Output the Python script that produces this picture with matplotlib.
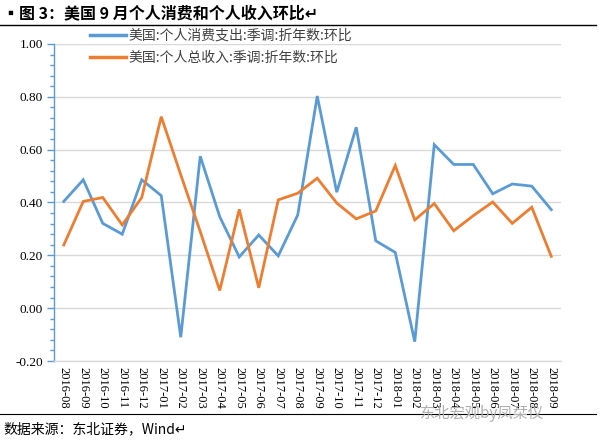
import matplotlib
matplotlib.use("Agg")
import matplotlib.pyplot as plt
from matplotlib.lines import Line2D
from matplotlib.ticker import MultipleLocator, FormatStrFormatter

plt.rcParams['font.family'] = ['Noto Sans CJK SC', 'DejaVu Sans']

months = ["2016-08", "2016-09", "2016-10", "2016-11", "2016-12",
          "2017-01", "2017-02", "2017-03", "2017-04", "2017-05", "2017-06",
          "2017-07", "2017-08", "2017-09", "2017-10", "2017-11", "2017-12",
          "2018-01", "2018-02", "2018-03", "2018-04", "2018-05", "2018-06",
          "2018-07", "2018-08", "2018-09"]
consumption = [0.404, 0.486, 0.321, 0.280, 0.486, 0.426, -0.110, 0.575, 0.346,
               0.194, 0.277, 0.198, 0.353, 0.803, 0.439, 0.685, 0.255, 0.211,
               -0.127, 0.619, 0.544, 0.544, 0.433, 0.470, 0.462, 0.373]
income = [0.239, 0.404, 0.419, 0.315, 0.419, 0.725, 0.505, 0.290, 0.067,
          0.374, 0.077, 0.410, 0.435, 0.492, 0.398, 0.338, 0.368, 0.540,
          0.334, 0.396, 0.293, 0.350, 0.402, 0.321, 0.382, 0.196]
series_names = ["美国:个人消费支出:季调:折年数:环比", "美国:个人总收入:季调:折年数:环比"]
title_text = "▪图 3：美国 9 月个人消费和个人收入环比↵"
source_text = "数据来源：东北证券，Wind↵"

blue = "#5B9BD5"
orange = "#ED7D31"

fig = plt.figure(figsize=(6.02, 4.42), dpi=100)
ax = fig.add_axes([54/602, 1-361/442, (561-54)/602, (361-44)/442])

x = list(range(len(months)))
ax.plot(x, consumption, color=blue, lw=2.0, solid_joinstyle='miter', label=series_names[0], zorder=3)
ax.plot(x, income, color=orange, lw=2.0, solid_joinstyle='miter', label=series_names[1], zorder=3)

ax.set_xlim(-0.5, len(months) - 0.5)
ax.set_ylim(-0.2, 1.0)
ax.yaxis.set_major_locator(MultipleLocator(0.2))
ax.yaxis.set_minor_locator(MultipleLocator(0.04))
ax.yaxis.set_major_formatter(FormatStrFormatter('%.2f'))
ax.grid(axis='y', which='major', color='#D9D9D9', lw=1.0, zorder=0)

for s in ['top', 'right']:
    ax.spines[s].set_visible(False)
ax.spines['left'].set_color(blue)
ax.spines['left'].set_linewidth(1.0)
ax.spines['bottom'].set_color('#D9D9D9')
ax.spines['bottom'].set_linewidth(1.0)

ax.tick_params(axis='y', which='major', direction='out', length=5, color=blue, width=1,
               labelsize=9.5, pad=3)
ax.tick_params(axis='y', which='minor', direction='out', length=3, color=blue, width=1)
ax.tick_params(axis='x', length=0, labelsize=9, pad=4)

ax.set_xticks(x)
ax.set_xticklabels(months, rotation=270, fontfamily='Liberation Serif')
for lab in ax.get_yticklabels():
    lab.set_fontfamily('Liberation Serif')

handles = [Line2D([0], [0], color=blue, lw=2.5), Line2D([0], [0], color=orange, lw=2.5)]
leg = ax.legend(handles, series_names, loc='upper left', bbox_to_anchor=(0.06, 1.065),
                frameon=False, fontsize=10, handlelength=2.6, handletextpad=0.2,
                labelspacing=0.55, borderaxespad=0)
for t in leg.get_texts():
    t.set_color('#404040')

fig.text(0.005, 1-13/442, title_text, fontsize=11.5, fontweight='bold', va='center', ha='left')
fig.add_artist(Line2D([0.0, 0.99], [1-25/442, 1-25/442], color='black', lw=1.0))
fig.add_artist(Line2D([0.0, 0.99], [1-414/442, 1-414/442], color='black', lw=0.8))
fig.text(0.005, 1-429/442, source_text, fontsize=10, va='center', ha='left')
fig.text(0.80, 1-413/442, "东北宏观by凤栞仪", fontsize=11, va='center', ha='center', color='#B0B0B0')

fig.savefig("out.png", dpi=100)
